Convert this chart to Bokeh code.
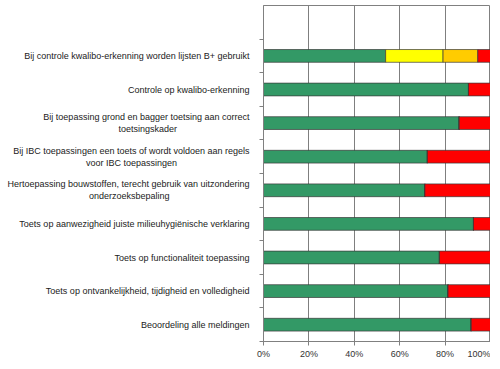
from bokeh.plotting import figure
from bokeh.models import ColumnDataSource, FixedTicker, NumeralTickFormatter, Range1d
from bokeh.embed import file_html
from bokeh.resources import INLINE

categories = [
    "Bij controle kwalibo-erkenning worden lijsten B+ gebruikt",
    "Controle op kwalibo-erkenning",
    "Bij toepassing grond en bagger toetsing aan correct\ntoetsingskader",
    "Bij IBC toepassingen een toets of wordt voldoen aan regels\nvoor IBC toepassingen",
    "Hertoepassing bouwstoffen, terecht gebruik van uitzondering\nonderzoeksbepaling",
    "Toets op aanwezigheid juiste milieuhygiënische verklaring",
    "Toets op functionaliteit toepassing",
    "Toets op ontvankelijkheid, tijdigheid en volledigheid",
    "Beoordeling alle meldingen",
]
green = [0.538, 0.903, 0.862, 0.722, 0.711, 0.925, 0.775, 0.813, 0.915]
yellow = [0.253, 0, 0, 0, 0, 0, 0, 0, 0]
orange = [0.153, 0, 0, 0, 0, 0, 0, 0, 0]
red = [0.056, 0.097, 0.138, 0.278, 0.289, 0.075, 0.225, 0.187, 0.085]
x_ticks = [0, 0.2, 0.4, 0.6, 0.8, 1.0]

# Arial / Liberation Sans advance widths (1/1000 em) to centre wrapped lines
W = dict(zip("abcdefghijklmnopqrstuvwxyz",
             [556, 556, 500, 556, 556, 278, 556, 556, 222, 222, 500, 222, 833,
              556, 556, 556, 556, 333, 500, 278, 556, 500, 722, 500, 500, 500]))
W.update({" ": 278, "B": 667, "I": 278, "C": 722, "H": 722, ",": 278, "-": 333,
          "+": 584, "ë": 556, "T": 611})


def tw(s):
    return sum(W.get(ch, 556) for ch in s)


def centre_wrap(label):
    lines = label.split("\n")
    if len(lines) == 1:
        return label
    width = max(tw(l) for l in lines)
    out = []
    for l in lines:
        pad = int(round((width - tw(l)) / 2 / 278))
        out.append(l + "\u00a0" * pad)
    return "\n".join(out)


n = len(categories)
slots = n + 1  # empty slot on top
ypos = [n - 1 - i + 0.5 for i in range(n)]

src = ColumnDataSource(dict(y=ypos, green=green, yellow=yellow, orange=orange, red=red))

FONT = "Liberation Sans"
p = figure(frame_width=227, frame_height=336, output_backend="svg", toolbar_location=None,
           x_range=Range1d(0, 1), y_range=Range1d(0, slots),
           min_border_left=263, min_border_right=0, min_border_top=5, min_border_bottom=0)

p.hbar_stack(["green", "yellow", "orange", "red"], y="y", height=0.38, source=src,
             color=["#339966", "#FFFF00", "#FFCC00", "#FF0000"],
             line_color="#3a3a3a", line_width=0.7)

p.outline_line_color = "#808080"
p.outline_line_width = 1
p.background_fill_color = "white"
p.border_fill_color = "white"

p.ygrid.visible = False
p.xgrid.ticker = FixedTicker(ticks=x_ticks)
p.xgrid.grid_line_color = "#7f7f7f"
p.xgrid.grid_line_width = 1

p.xaxis.ticker = FixedTicker(ticks=x_ticks)
p.xaxis.formatter = NumeralTickFormatter(format="0%")
p.xaxis.axis_line_color = "#808080"
p.xaxis.major_tick_line_color = "#808080"
p.xaxis.major_tick_out = 4
p.xaxis.major_tick_in = 0
p.xaxis.minor_tick_line_color = None
p.xaxis.major_label_text_font = FONT
p.xaxis.major_label_text_font_size = "9px"
p.xaxis.major_label_text_color = "#333333"
p.xaxis.major_label_standoff = 3

p.yaxis.ticker = FixedTicker(ticks=ypos, minor_ticks=list(range(0, slots)))
p.yaxis.major_label_overrides = {y: centre_wrap(c) for y, c in zip(ypos, categories)}
p.yaxis.major_tick_line_color = None
p.yaxis.minor_tick_line_color = "#808080"
p.yaxis.minor_tick_out = 4
p.yaxis.minor_tick_in = 0
p.yaxis.axis_line_color = "#808080"
p.yaxis.major_label_text_font = FONT
p.yaxis.major_label_text_font_size = "9px"
p.yaxis.major_label_text_color = "#222222"
p.yaxis.major_label_standoff = 8
p.yaxis.major_label_text_align = "right"

open("out.html", "w").write(file_html(p, INLINE))
